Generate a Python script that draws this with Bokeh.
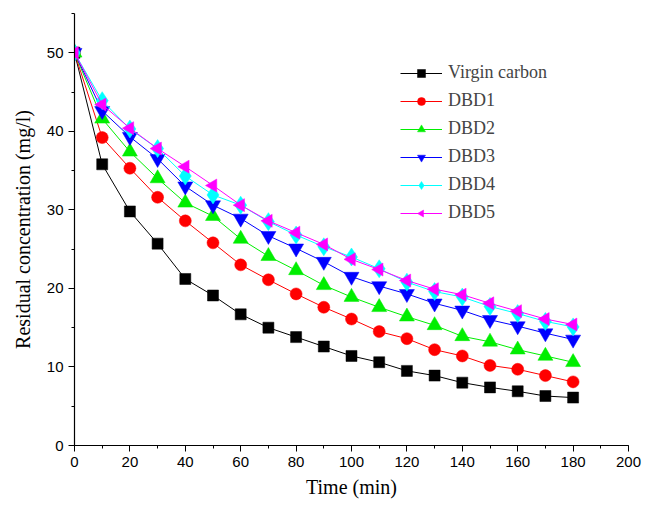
import math
from bokeh.plotting import figure
from bokeh.models import Range1d, Legend, FixedTicker
from bokeh.embed import file_html
from bokeh.resources import INLINE

time_min = [0, 10, 20, 30, 40, 50, 60, 70, 80, 90, 100, 110, 120, 130, 140, 150, 160, 170, 180]
virgin = [50, 35.8, 29.8, 25.7, 21.2, 19.1, 16.7, 15.0, 13.8, 12.6, 11.4, 10.6, 9.5, 8.9, 8.0, 7.4, 6.9, 6.3, 6.1]
dbd1 = [50, 39.2, 35.3, 31.6, 28.6, 25.8, 23.0, 21.1, 19.3, 17.6, 16.1, 14.5, 13.6, 12.2, 11.4, 10.2, 9.7, 8.9, 8.1]
dbd2 = [50, 41.6, 37.4, 34.0, 30.9, 29.2, 26.3, 24.1, 22.3, 20.4, 18.9, 17.6, 16.4, 15.3, 13.9, 13.2, 12.2, 11.4, 10.6]
dbd3 = [50, 42.6, 39.3, 36.5, 33.0, 30.6, 28.9, 26.7, 25.1, 23.4, 21.5, 20.3, 19.3, 18.1, 17.2, 16.0, 15.2, 14.3, 13.5]
dbd4 = [50, 43.9, 40.3, 37.8, 34.3, 31.9, 30.6, 28.5, 26.8, 25.3, 24.0, 22.5, 20.8, 19.6, 18.9, 17.7, 16.8, 15.8, 15.1]
dbd5 = [50, 43.4, 40.4, 37.8, 35.5, 33.1, 30.6, 28.6, 27.1, 25.6, 23.7, 22.4, 21.0, 19.9, 19.2, 18.1, 17.1, 16.1, 15.4]

x_ticks = list(range(0, 201, 20))
y_ticks = list(range(0, 51, 10))

names = ["Virgin carbon", "DBD1", "DBD2", "DBD3", "DBD4", "DBD5"]
series = [virgin, dbd1, dbd2, dbd3, dbd4, dbd5]
colors = ["black", "#ff0000", "#00ee00", "#0000ff", "#00ffff", "#ff00ff"]
markers = ["square", "circle", "triangle", "inverted_triangle", "diamond", None]
sizes = [11, 12, 15, 15, 18, 13]

p = figure(width=645, height=500, output_backend="svg", toolbar_location=None,
           x_range=Range1d(0, 200), y_range=Range1d(0, 55),
           min_border_left=74, min_border_right=17, min_border_top=13, min_border_bottom=54)
p.outline_line_color = None
p.xgrid.visible = False
p.ygrid.visible = False

items = []
for name, ys, c, m, s in zip(names, series, colors, markers, sizes):
    l = p.line(time_min, ys, line_color=c, line_width=1)
    if m is not None:
        sc = p.scatter(time_min, ys, marker=m, size=s, fill_color=c, line_color=c, line_width=0.5)
    else:
        sc = p.ngon(time_min, ys, radius=7.5, radius_units="screen", n=3, angle=math.pi / 2,
                    fill_color=c, line_color=c, line_width=0.5)
    items.append((name, [l, sc]))

legend = Legend(items=items, location=(326, 222))
legend.background_fill_alpha = 0
legend.border_line_color = None
legend.label_text_font = "Liberation Serif"
legend.label_text_font_size = "18px"
legend.glyph_width = 42
legend.glyph_height = 20
legend.label_height = 20
legend.spacing = 7
legend.padding = 4
legend.label_standoff = 6
p.add_layout(legend, "center")

for ax in (p.xaxis[0], p.yaxis[0]):
    ax.axis_line_color = "black"
    ax.axis_line_width = 1.2
    ax.major_tick_in = 0
    ax.major_tick_out = 6
    ax.minor_tick_in = 0
    ax.minor_tick_out = 3
    ax.major_label_text_font = "Liberation Sans"
    ax.major_label_text_font_size = "15px"
    ax.major_label_text_color = "black"
    ax.axis_label_text_font = "Liberation Serif"
    ax.axis_label_text_font_size = "20px"
    ax.axis_label_text_font_style = "normal"
    ax.axis_label_text_color = "black"

p.xaxis[0].ticker = FixedTicker(ticks=x_ticks, minor_ticks=list(range(0, 201, 10)))
p.yaxis[0].ticker = FixedTicker(ticks=y_ticks, minor_ticks=list(range(0, 56, 5)))
p.xaxis[0].axis_label_standoff = 6
p.yaxis[0].axis_label_standoff = 10

p.xaxis.axis_label = "Time (min)"
p.yaxis.axis_label = "Residual concentration (mg/l)"

open("out.html", "w").write(file_html(p, INLINE))
